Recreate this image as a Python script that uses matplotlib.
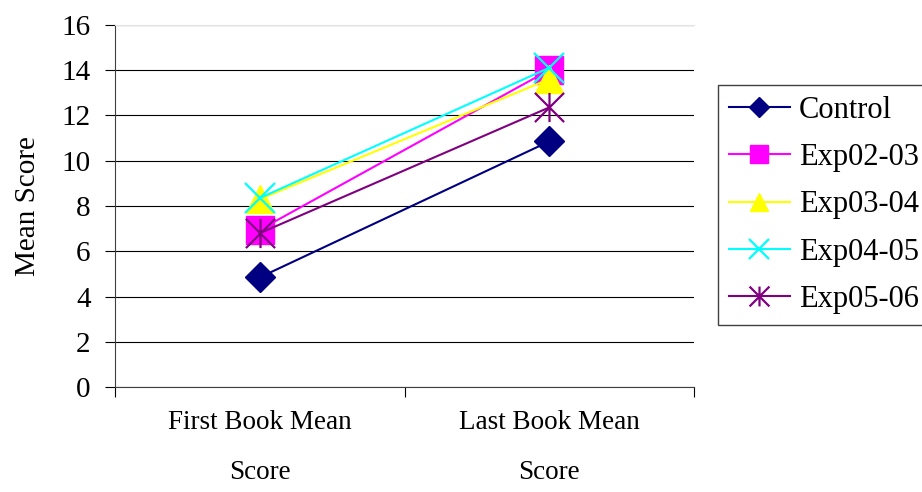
import matplotlib
matplotlib.use("Agg")
import matplotlib.pyplot as plt
from matplotlib.path import Path

plt.rcParams['font.family'] = ['Liberation Serif', 'DejaVu Serif']

# category labels and series values
categories = ["First Book Mean\nScore", "Last Book Mean\nScore"]
series_names = ["Control", "Exp02-03", "Exp03-04", "Exp04-05", "Exp05-06"]
control = [4.85, 10.85]
exp0203 = [6.95, 14.0]
exp0304 = [8.3, 13.6]
exp0405 = [8.35, 14.1]
exp0506 = [6.8, 12.35]
y_ticks = [0, 2, 4, 6, 8, 10, 12, 14, 16]

# excel style asterisk: an x plus a vertical bar
star = Path([(-1, -1), (1, 1), (-1, 1), (1, -1), (0, -1), (0, 1)],
            [Path.MOVETO, Path.LINETO, Path.MOVETO, Path.LINETO, Path.MOVETO, Path.LINETO])

styles = [
    dict(color="#000080", marker="D", ms=15),
    dict(color="#FF00FF", marker="s", ms=20),
    dict(color="#FFFF00", marker="^", ms=20),
    dict(color="#00FFFF", marker="x", ms=21, mew=1.6),
    dict(color="#800080", marker=star, ms=21, mew=1.6),
]

fig = plt.figure(figsize=(9.22, 4.92), dpi=100)
ax = fig.add_axes([115/922, 1 - 387.3/492, (694 - 115)/922, (387.3 - 24.7)/492])

x = [0, 1]
for name, vals, st in zip(series_names, [control, exp0203, exp0304, exp0405, exp0506], styles):
    ax.plot(x, vals, label=name, lw=1.5, **st)

ax.set_xlim(-0.5, 1.5)
ax.set_ylim(0, 16)
ax.set_yticks(y_ticks)
ax.tick_params(axis='y', labelsize=21, length=7, width=0.8, pad=10.5, direction='out')
ax.yaxis.grid(True, color='black', lw=0.8)
ax.set_axisbelow(True)

# category boundaries get the tick marks, labels sit between them
ax.set_xticks([-0.5, 0.5, 1.5])
ax.set_xticklabels(["", "", ""])
ax.set_xticks(x, minor=True)
ax.set_xticklabels(categories, minor=True, fontsize=19.5, linespacing=2.33)
ax.tick_params(axis='x', which='major', length=7, width=0.8, direction='out')
ax.tick_params(axis='x', which='minor', length=0, pad=16)

ax.spines['right'].set_visible(False)
ax.spines['top'].set_color('#e4e4e4')
ax.spines['left'].set_color('#404040')
ax.spines['bottom'].set_color('#404040')

ax.set_ylabel("Mean Score", fontsize=21)
ax.yaxis.set_label_coords(-0.128, 0.5)

leg = fig.legend(loc='upper left', bbox_to_anchor=(718/922, 1 - 85/492), fontsize=22,
                 frameon=True, fancybox=False, edgecolor='#404040', framealpha=1,
                 handlelength=2.0, handletextpad=0.3, labelspacing=0.6,
                 borderpad=0.35, borderaxespad=0, markerscale=0.68)
leg.get_frame().set_linewidth(1.0)

fig.savefig("out.png", dpi=100)
